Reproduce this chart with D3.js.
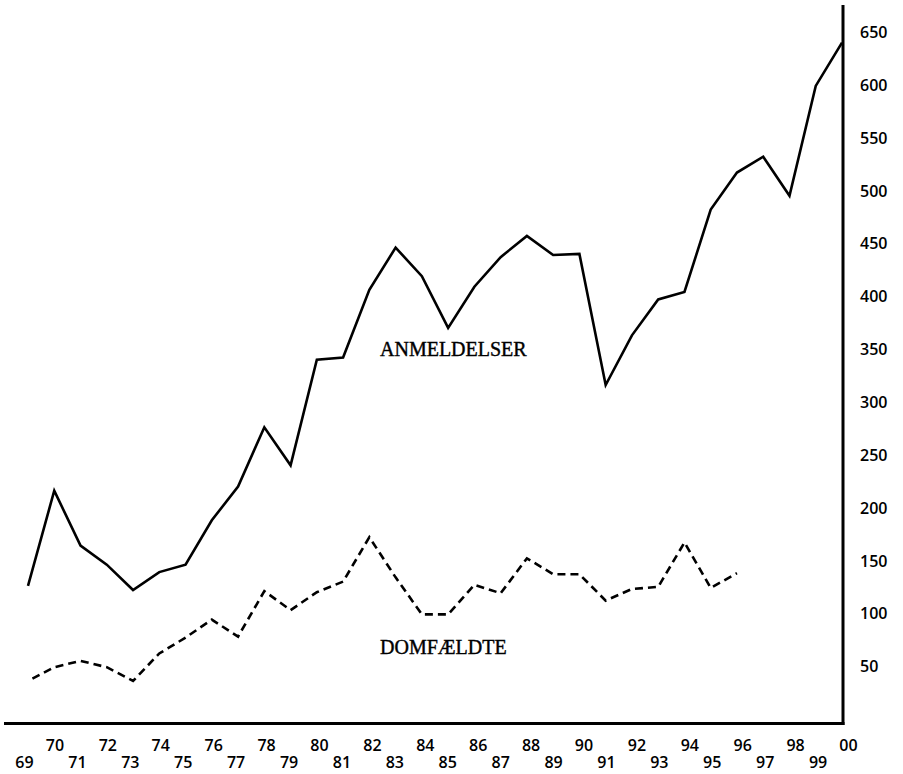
<!DOCTYPE html>
<html>
<head>
<meta charset="utf-8">
<script src="https://cdn.jsdelivr.net/npm/d3@7"></script>
<style>
  html, body { margin: 0; padding: 0; background: #fff; }
  svg { display: block; }
</style>
</head>
<body>
<svg id="chart" width="903" height="774"></svg>
<script>
// ---- data ----
const years = d3.range(1969, 2001);
const anmeldelser = [126, 216, 164, 146, 122, 139, 146, 188, 220, 276, 240,
                     340, 342, 406, 446, 419, 370, 409, 437, 457, 439, 440,
                     316, 363, 397, 404, 482, 517, 532, 495, 599, 640];
const domfaeldteYears = d3.range(1969, 1997);
const domfaeldte = [36, 49, 55, 49, 36, 62, 77, 94, 78, 121, 103,
                    120, 130, 172, 134, 99, 99, 127, 119, 152, 137, 137,
                    112, 123, 125, 167, 124, 138];
const yTicks = [50, 100, 150, 200, 250, 300, 350, 400, 450, 500, 550, 600, 650];
const seriesLabels = ["ANMELDELSER", "DOMFÆLDTE"];

// ---- layout ----
const svg = d3.select("#chart");
const x = d3.scaleLinear().domain([1969, 2000]).range([28, 842]);
const xLab = d3.scaleLinear().domain([1969, 2000]).range([26, 846]);
const y = d3.scaleLinear().domain([0, 650]).range([719, 32]);

const tickFont = "'Open Sans', 'Liberation Sans', sans-serif";
const serif = "'Liberation Serif', 'DejaVu Serif', serif";

// axes lines
svg.append("line").attr("x1", 4).attr("x2", 844.5).attr("y1", 723.5).attr("y2", 723.5)
  .attr("stroke", "#000").attr("stroke-width", 3);
svg.append("line").attr("x1", 843).attr("x2", 843).attr("y1", 5).attr("y2", 725)
  .attr("stroke", "#000").attr("stroke-width", 3);

// right y-axis labels
const yAxis = d3.axisRight(y).tickValues(yTicks).tickSize(0).tickPadding(0);
const gy = svg.append("g").attr("transform", "translate(860,0)").call(yAxis);
gy.select(".domain").remove();
gy.selectAll("text")
  .attr("x", 0)
  .attr("dy", "0.35em")
  .style("font-family", tickFont)
  .style("font-size", "16px")
  .style("font-weight", "600")
  .attr("fill", "#000")
  .attr("text-anchor", "start");

// bottom x-axis labels (two staggered rows)
const xAxis = d3.axisBottom(xLab).tickValues(years).tickSize(0)
  .tickFormat(d => String(d % 100).padStart(2, "0"));
const gx = svg.append("g").attr("transform", "translate(0,0)").call(xAxis);
gx.select(".domain").remove();
gx.selectAll(".tick text")
  .style("font-family", tickFont)
  .style("font-size", "16px")
  .style("font-weight", "600")
  .attr("fill", "#000")
  .attr("dy", 0)
  .attr("x", d => (d % 2 === 0 ? 2 : -2))
  .attr("y", d => (d % 2 === 0 ? 751 : 768));

// lines
const line = d3.line().x(d => x(d[0])).y(d => y(d[1]));
svg.append("path")
  .datum(years.map((yr, i) => [yr, anmeldelser[i]]))
  .attr("d", line)
  .attr("fill", "none").attr("stroke", "#000").attr("stroke-width", 2.6)
  .attr("stroke-linejoin", "miter");
svg.append("path")
  .datum(domfaeldteYears.map((yr, i) => [yr, domfaeldte[i]]))
  .attr("d", line)
  .attr("fill", "none").attr("stroke", "#000").attr("stroke-width", 2.6)
  .attr("stroke-dasharray", "8,5").attr("stroke-dashoffset", -5);

// series labels
svg.append("text").attr("x", 380).attr("y", 356).text(seriesLabels[0])
  .style("font-family", serif).style("font-size", "20px").attr("fill", "#000")
  .attr("stroke", "#000").attr("stroke-width", 0.4);
svg.append("text").attr("x", 380).attr("y", 654).text(seriesLabels[1])
  .style("font-family", serif).style("font-size", "20px").attr("fill", "#000")
  .attr("stroke", "#000").attr("stroke-width", 0.4);
</script>
</body>
</html>
